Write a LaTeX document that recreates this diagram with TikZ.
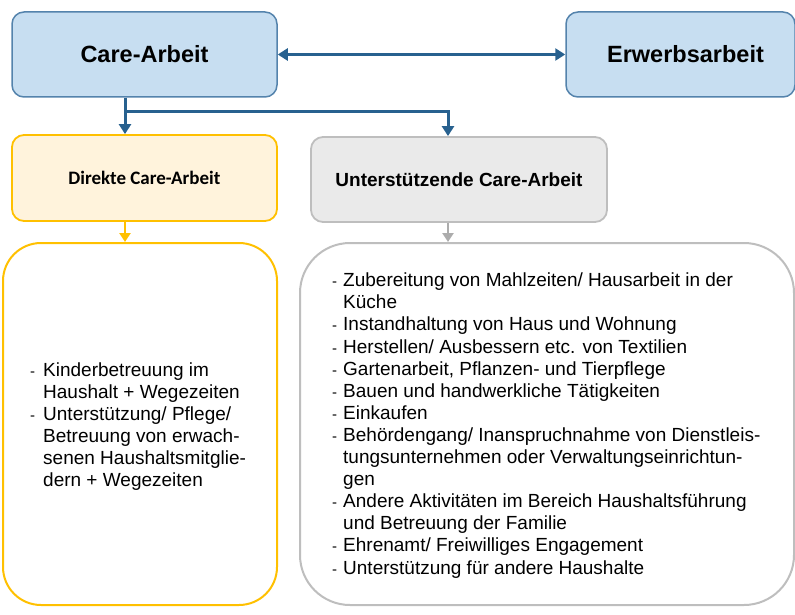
\documentclass[tikz,border=0pt]{standalone}
\usepackage{fontspec}
\setmainfont{Liberation Sans}
\newfontfamily\calibfont{Carlito}
\usetikzlibrary{arrows.meta}

\definecolor{boxblue}{RGB}{199,222,241}
\definecolor{edgeblue}{RGB}{84,131,172}
\definecolor{arrowblue}{RGB}{40,97,143}
\definecolor{gold}{RGB}{255,192,0}
\definecolor{cream}{RGB}{255,243,220}
\definecolor{boxgray}{RGB}{234,234,234}
\definecolor{edgegray}{RGB}{190,190,190}
\definecolor{arrowgray}{RGB}{172,172,172}

% list helpers: first line of an item with dash, continuation lines indented
\newcommand{\itemline}[2][12pt]{\makebox[#1][l]{\fontsize{15}{15}\selectfont -}#2}
\newcommand{\contline}[2][12pt]{\hspace*{#1}#2}

\begin{document}
\begin{tikzpicture}[x=1pt,y=-1pt,
  box/.style={rectangle, inner sep=0pt, rounded corners=12pt},
  topbox/.style={box, fill=boxblue, draw=edgeblue, line width=1.5pt,
    font=\bfseries\fontsize{23.5}{28}\selectfont},
  directbox/.style={box, fill=cream, draw=gold, line width=1.8pt,
    font=\calibfont\bfseries\fontsize{19}{22}\selectfont},
  supportbox/.style={box, fill=boxgray, draw=edgegray, line width=1.8pt,
    font=\bfseries\fontsize{19}{22}\selectfont},
  listbox/.style={rectangle, inner sep=0pt, fill=white, line width=2pt},
  listtext/.style={inner sep=0pt, align=left, font=\fontsize{19}{22.1}\selectfont},
  bluearr/.style={draw=arrowblue, line width=3pt,
    -{Triangle[length=10pt,width=12pt]}},
  bluedouble/.style={draw=arrowblue, line width=2.8pt,
    {Triangle[length=10pt,width=12pt]}-{Triangle[length=10pt,width=12pt]}},
  yellowarr/.style={draw=gold, line width=2.6pt,
    -{Triangle[length=9pt,width=11pt]}},
  grayarr/.style={draw=arrowgray, line width=2.6pt,
    -{Triangle[length=9pt,width=11pt]}}
]
\useasboundingbox (0,0) rectangle (795,615);

% top row
\node[topbox, minimum width=265pt, minimum height=85pt] (care) at (144.5,54.5) {Care-Arbeit};
\node[topbox, minimum width=229pt, minimum height=85pt] (erwerb) at (680.5,54.5) {\hspace*{10pt}Erwerbsarbeit};

% second row
\node[directbox, minimum width=265pt, minimum height=86pt] (direkt) at (144.5,178) {Direkte Care-Arbeit};
\node[supportbox, minimum width=296pt, minimum height=85pt] (unterst) at (459,179.5) {Unterstützende Care-Arbeit};

% list boxes
\node[listbox, draw=gold, rounded corners=38pt, minimum width=274pt, minimum height=362pt] (lbox) at (140,424) {};
\node[listbox, draw=edgegray, rounded corners=50pt, minimum width=494pt, minimum height=362pt] (rbox) at (547,424) {};

\node[listtext, anchor=west] (ltext) at (30,426.5) {%
  \itemline[13pt]{Kinderbetreuung im}\\
  \contline[13pt]{Haushalt + Wegezeiten}\\
  \itemline[13pt]{Unterstützung/ Pflege/}\\
  \contline[13pt]{Betreuung von erwach-}\\
  \contline[13pt]{senen Haushaltsmitglie-}\\
  \contline[13pt]{dern + Wegezeiten}};

\node[listtext, anchor=west] (rtext) at (332,425.5) {%
  \itemline[11pt]{Zubereitung von Mahlzeiten/ Hausarbeit in der}\\
  \contline[11pt]{Küche}\\
  \itemline[11pt]{Instandhaltung von Haus und Wohnung}\\
  \itemline[11pt]{Herstellen/ Ausbessern etc. von Textilien}\\
  \itemline[11pt]{Gartenarbeit, Pflanzen- und Tierpflege}\\
  \itemline[11pt]{Bauen und handwerkliche Tätigkeiten}\\
  \itemline[11pt]{Einkaufen}\\
  \itemline[11pt]{Behördengang/ Inanspruchnahme von Dienstleis-}\\
  \contline[11pt]{tungsunternehmen oder Verwaltungseinrichtun-}\\
  \contline[11pt]{gen}\\
  \itemline[11pt]{Andere Aktivitäten im Bereich Haushaltsführung}\\
  \contline[11pt]{und Betreuung der Familie}\\
  \itemline[11pt]{Ehrenamt/ Freiwilliges Engagement}\\
  \itemline[11pt]{Unterstützung für andere Haushalte}};

% connectors
\coordinate (jl) at (125,112);
\coordinate (jr) at (448,112);

\draw[bluedouble] (care.east) -- (erwerb.west);
\draw[bluearr] (care.south -| jl) -- (direkt.north -| jl);
\draw[bluearr, line join=miter] (jl) -- (jr) -- (unterst.north -| jr);
\draw[yellowarr] (direkt.south -| jl) -- (lbox.north -| jl);
\draw[grayarr] (unterst.south -| jr) -- (rbox.north -| jr);

\end{tikzpicture}
\end{document}
